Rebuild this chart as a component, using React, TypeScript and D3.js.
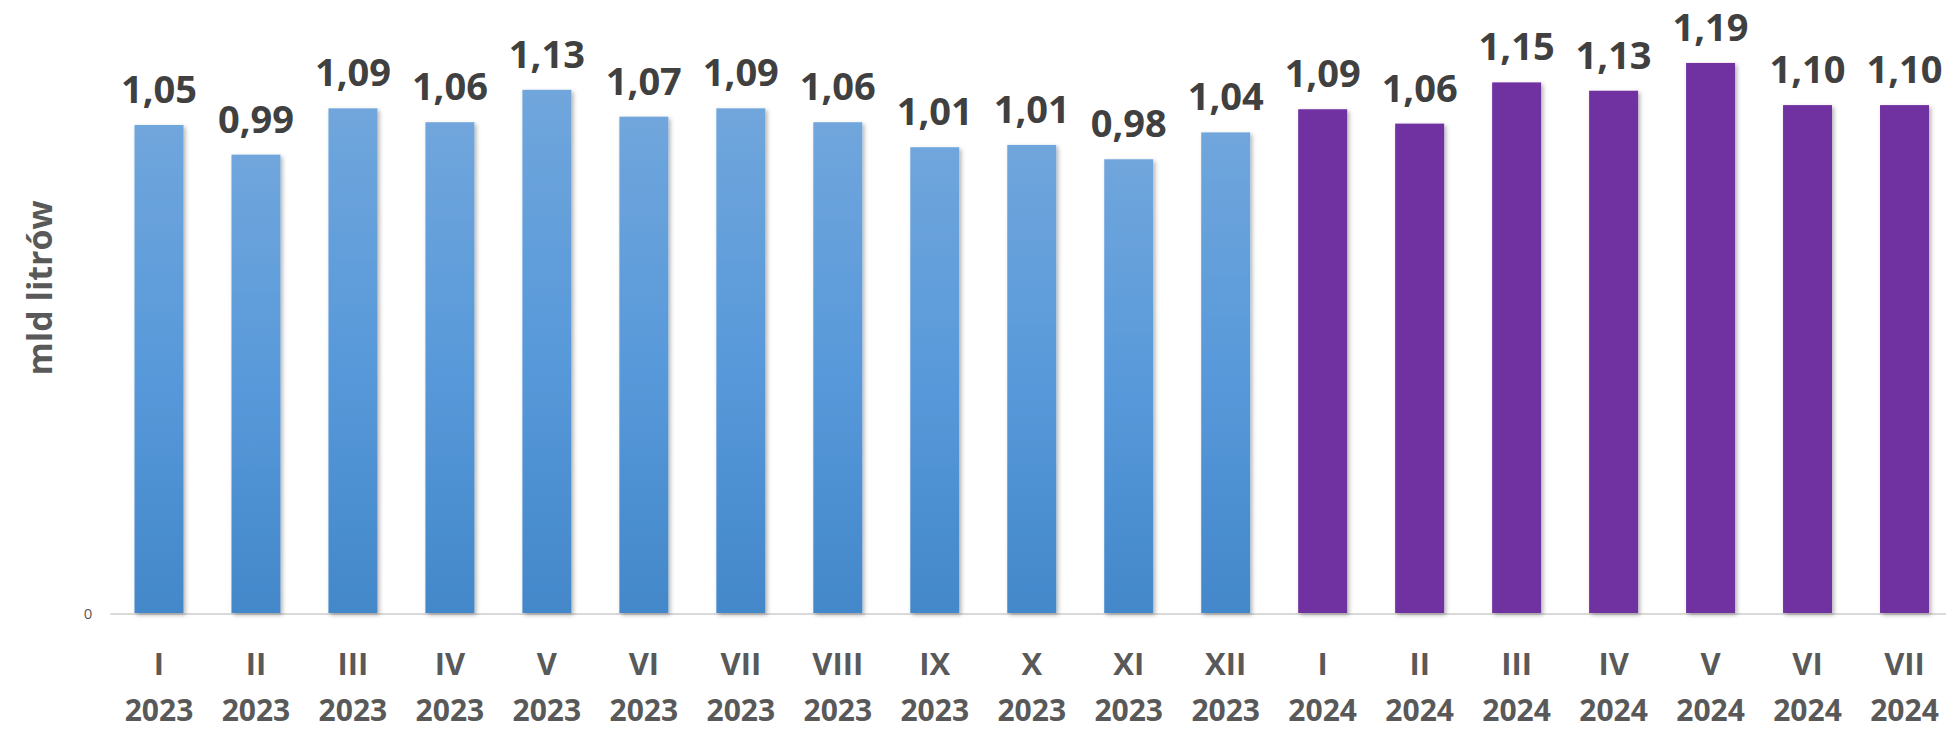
import * as d3 from "d3";

const W = 1946;
const H = 729;

// months and years on the x axis
const months = ["I", "II", "III", "IV", "V", "VI", "VII", "VIII", "IX", "X", "XI", "XII", "I", "II", "III", "IV", "V", "VI", "VII"];
const years = ["2023", "2023", "2023", "2023", "2023", "2023", "2023", "2023", "2023", "2023", "2023", "2023", "2024", "2024", "2024", "2024", "2024", "2024", "2024"];
// sales, bn litres
const values = [1.054, 0.99, 1.09, 1.06, 1.13, 1.072, 1.09, 1.06, 1.006, 1.011, 0.98, 1.038, 1.088, 1.057, 1.146, 1.128, 1.188, 1.097, 1.097];

const margin = { left: 110.5, right: -7, base: 613 };

const fmt = (v: number) => d3.format(".2f")(v).replace(".", ",");

export default function App() {
  const keys = months.map((_, i) => String(i));
  const x = d3
    .scaleBand()
    .domain(keys)
    .range([margin.left, W - margin.right])
    .paddingInner(0.495)
    .paddingOuter(0.2475);
  const y = d3.scaleLinear().domain([0, 1.2]).range([margin.base, margin.base - 463 * 1.2]);

  return (
    <svg width={W} height={H} style={{ position: "absolute", left: 0, top: 0 }} fontFamily="'Open Sans', sans-serif">
      <defs>
        <linearGradient id="blue" x1="0" y1="0" x2="0" y2="1">
          <stop offset="0%" stopColor="#70a6dc" />
          <stop offset="50%" stopColor="#5899da" />
          <stop offset="100%" stopColor="#4388ca" />
        </linearGradient>
        <filter id="shadow" x="-20%" y="-5%" width="140%" height="110%">
          <feDropShadow dx="2" dy="2" stdDeviation="2" floodColor="#000" floodOpacity="0.3" />
        </filter>
      </defs>

      <line x1={margin.left} x2={W} y1={y(0) + 1} y2={y(0) + 1} stroke="#d9d9d9" strokeWidth={2} />
      <text x={88} y={y(0) + 2} textAnchor="middle" dominantBaseline="middle" fontSize={15} fill="#595959">0</text>

      <text
        transform={`translate(52,${288}) rotate(-90)`}
        textAnchor="middle"
        fontSize={34}
        fontWeight="bold"
        fill="#595959"
      >mld litrów</text>

      {values.map((v, i) => {
        const bx = x(String(i))!;
        const bw = x.bandwidth();
        const cx = bx + bw / 2;
        return (
          <g key={i}>
            <rect
              x={bx}
              y={y(v)}
              width={bw}
              height={y(0) - y(v)}
              fill={years[i] === "2023" ? "url(#blue)" : "#7030a0"}
              filter="url(#shadow)"
            />
            <text x={cx} y={y(v) - 22} textAnchor="middle" fontSize={38} fontWeight="bold" fill="#404040">
              {fmt(v)}
            </text>
            <text x={cx} y={675} textAnchor="middle" fontSize={31} fontWeight="bold" fill="#595959">
              {months[i]}
            </text>
            <text x={cx} y={721} textAnchor="middle" fontSize={30} fontWeight="bold" fill="#595959">
              {years[i]}
            </text>
          </g>
        );
      })}
    </svg>
  );
}
